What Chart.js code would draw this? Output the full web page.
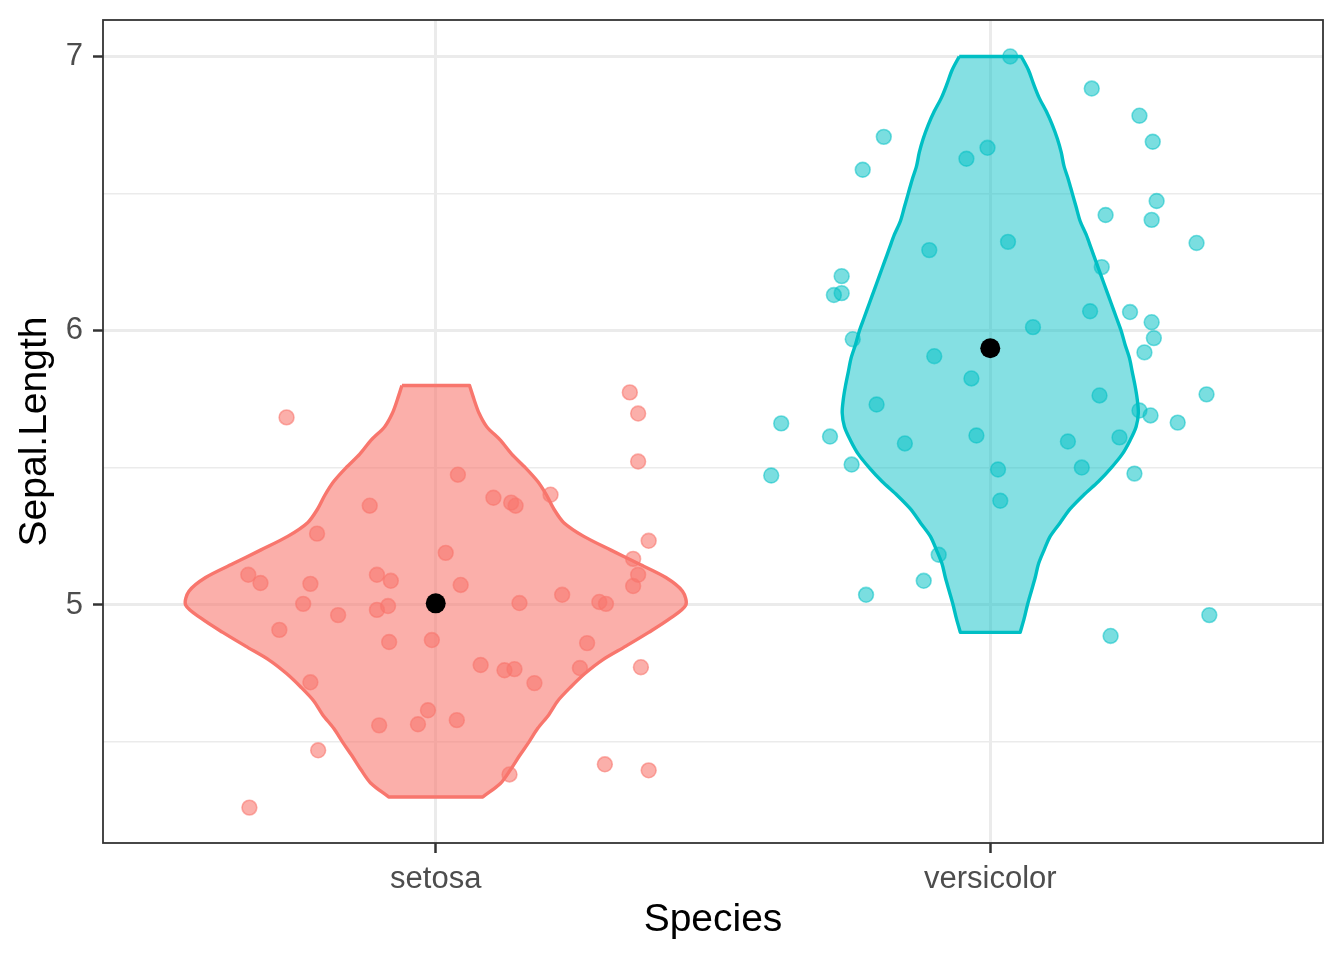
<!DOCTYPE html>
<html>
<head>
<meta charset="utf-8">
<script src="https://cdn.jsdelivr.net/npm/chart.js@4.4.1/dist/chart.umd.min.js"></script>
<style>
  html, body { margin: 0; padding: 0; background: #fff; }
  #wrap { width: 1344px; height: 960px; }
</style>
</head>
<body>
<div id="wrap"><canvas id="violinChart"></canvas></div>
<script>
// ── Data ──
const species = ['setosa', 'versicolor'];
const speciesFill = ['rgba(248,118,109,0.58)', 'rgba(0,191,196,0.48)'];
const speciesLine = ['#F8766D', '#00BFC4'];
const speciesDot = ['rgba(248,118,109,0.58)', 'rgba(0,191,196,0.52)'];
const yTicks = [4.5, 5, 5.5, 6, 6.5, 7];
const meanLength = [5.006, 5.936];

// violin outline: y levels and half widths (in x units)
const setosaLevels = [5.8, 5.75, 5.7, 5.65, 5.6, 5.55, 5.5, 5.45, 5.4, 5.35, 5.3, 5.25, 5.2, 5.15, 5.1, 5.05,
    5.0, 4.95, 4.9, 4.85, 4.8, 4.75, 4.7, 4.65, 4.6, 4.55, 4.5, 4.45, 4.4, 4.35, 4.3];
const setosaHalfWidth = [0.061, 0.069, 0.078, 0.092, 0.117, 0.137, 0.162, 0.184, 0.200, 0.213, 0.231, 0.267,
    0.316, 0.366, 0.415, 0.445, 0.451, 0.422, 0.384, 0.343, 0.301, 0.269, 0.243, 0.220, 0.204, 0.184,
    0.168, 0.151, 0.135, 0.117, 0.085];

const versicolorLevels = [7.0, 6.95, 6.9, 6.85, 6.8, 6.75, 6.7, 6.65, 6.6, 6.55, 6.5, 6.45, 6.4, 6.35, 6.3,
    6.25, 6.2, 6.15, 6.1, 6.05, 6.0, 5.95, 5.9, 5.85, 5.8, 5.75, 5.7, 5.65, 5.6, 5.55, 5.5, 5.45, 5.4,
    5.35, 5.3, 5.25, 5.2, 5.15, 5.1, 5.05, 5.0, 4.95, 4.9];
const versicolorHalfWidth = [0.056, 0.069, 0.078, 0.088, 0.101, 0.112, 0.121, 0.128, 0.133, 0.141, 0.148,
    0.155, 0.162, 0.173, 0.182, 0.191, 0.200, 0.209, 0.218, 0.227, 0.236, 0.243, 0.251, 0.256, 0.261,
    0.265, 0.267, 0.263, 0.252, 0.238, 0.218, 0.195, 0.168, 0.144, 0.126, 0.108, 0.097, 0.087, 0.081,
    0.074, 0.067, 0.061, 0.054];

// jittered points (x offset from category, sepal length)
const setosaJitter = [-0.269, -0.336, -0.212, -0.338, -0.316, -0.214, -0.119, -0.239, -0.226, -0.282,
    -0.176, -0.226, -0.106, -0.081, -0.106, -0.086, -0.084, -0.102, -0.032, -0.014,
    0.038, -0.007, 0.018, 0.040, 0.045, 0.081, 0.104, 0.136, 0.144, 0.151,
    0.124, 0.142, 0.178, 0.207, 0.228, 0.133, 0.260, 0.273, 0.295, 0.307,
    0.305, 0.384, 0.370, 0.350, 0.365, 0.365, 0.384, 0.356, 0.365, 0.356];
const setosaLength = [5.684, 4.261, 4.470, 5.110, 5.080, 5.260, 5.362, 5.004, 5.077, 4.909,
    4.963, 4.718, 5.110, 5.088, 4.982, 4.996, 4.865, 4.561, 4.565, 4.616,
    4.580, 4.872, 5.190, 5.475, 5.073, 4.781, 5.391, 5.373, 5.362, 5.007,
    4.762, 4.766, 4.715, 5.402, 5.037, 4.382, 4.770, 4.861, 5.011, 5.004,
    4.419, 4.397, 4.773, 5.775, 5.698, 5.523, 5.234, 5.168, 5.110, 5.069];

const versicolorJitter = [0.036, 0.183, 0.269, 0.293, -0.192, -0.230, -0.043, -0.005, 0.300, 0.208,
    0.291, -0.110, 0.032, 0.372, -0.268, -0.282, -0.268, 0.201, -0.248, 0.180,
    0.252, 0.291, 0.295, 0.278, 0.077, -0.101, -0.034, -0.205, -0.154, 0.197,
    0.390, 0.269, 0.289, -0.377, -0.289, -0.025, 0.140, 0.233, 0.338, -0.250,
    -0.395, 0.014, 0.165, 0.260, 0.018, -0.093, -0.120, -0.224, 0.217, 0.395];
const versicolorLength = [7.000, 6.883, 6.784, 6.689, 6.707, 6.587, 6.627, 6.667, 6.473, 6.422,
    6.404, 6.294, 6.324, 6.320, 6.199, 6.130, 6.137, 6.232, 5.969, 6.071,
    6.068, 6.031, 5.973, 5.921, 6.013, 5.907, 5.826, 5.731, 5.589, 5.764,
    5.768, 5.709, 5.691, 5.662, 5.614, 5.618, 5.596, 5.611, 5.665, 5.512,
    5.472, 5.494, 5.501, 5.479, 5.380, 5.183, 5.088, 5.037, 4.887, 4.963];

// ── Helpers ──
// outline goes down the left side, across the bottom, up the right side and
// back across the top; end points are doubled so the flat ends stay straight
function violinOutline(center, levels, half) {
    const left = levels.map((y, i) => ({ x: center - half[i], y }));
    const right = levels.map((y, i) => ({ x: center + half[i], y })).reverse();
    const n = left.length;
    return [left[0], ...left, left[n - 1], right[0], ...right, right[n - 1], left[0]];
}
function jitterPoints(center, jitter, values) {
    return values.map((y, i) => ({ x: center + jitter[i], y }));
}

const FONT = '"Liberation Sans", Arial, Helvetica, sans-serif';

const violins = [
    violinOutline(1, setosaLevels, setosaHalfWidth),
    violinOutline(2, versicolorLevels, versicolorHalfWidth)
];
const points = [
    jitterPoints(1, setosaJitter, setosaLength),
    jitterPoints(2, versicolorJitter, versicolorLength)
];

const datasets = [];
species.forEach((name, i) => {
    datasets.push({
        label: name + ' violin',
        data: violins[i],
        showLine: true,
        fill: 'shape',
        backgroundColor: speciesFill[i],
        borderColor: speciesLine[i],
        borderWidth: 3.4,
        borderJoinStyle: 'round',
        tension: 0.3,
        pointRadius: 0,
        order: 3
    });
    datasets.push({
        label: name,
        data: points[i],
        backgroundColor: speciesDot[i],
        borderColor: speciesDot[i],
        borderWidth: 1.6,
        pointRadius: 7.4,
        order: 2
    });
});
datasets.push({
    label: 'mean',
    data: meanLength.map((y, i) => ({ x: i + 1, y })),
    backgroundColor: '#000',
    borderColor: '#000',
    borderWidth: 0,
    pointRadius: 10,
    order: 1
});

// ── Panel border ──
const panelBorder = {
    id: 'panelBorder',
    afterDatasetsDraw(chart) {
        const { ctx, chartArea: a } = chart;
        ctx.save();
        ctx.strokeStyle = '#333333';
        ctx.lineWidth = 1.8;
        ctx.strokeRect(a.left, a.top, a.right - a.left, a.bottom - a.top);
        ctx.restore();
    }
};

const isMajor = v => Math.abs(v - Math.round(v)) < 1e-6;

// ── Build Chart ──
new Chart(document.getElementById('violinChart'), {
    type: 'scatter',
    data: { datasets },
    options: {
        responsive: true,
        maintainAspectRatio: false,
        devicePixelRatio: 1,
        animation: false,
        events: [],
        layout: { padding: { left: 0, right: 21, top: 20, bottom: 0 } },
        plugins: {
            legend: { display: false },
            tooltip: { enabled: false }
        },
        scales: {
            x: {
                type: 'linear',
                min: 0.4,
                max: 2.6,
                afterBuildTicks: s => { s.ticks = species.map((_, i) => ({ value: i + 1 })); },
                afterFit: s => { s.height = 117; s.paddingLeft = 0; s.paddingRight = 0; },
                ticks: {
                    callback: (v, i) => species[i],
                    font: { family: FONT, size: 31 },
                    color: '#4D4D4D',
                    padding: 8,
                    maxRotation: 0,
                    autoSkip: false
                },
                grid: {
                    color: '#EBEBEB',
                    lineWidth: 3,
                    tickLength: 10,
                    tickColor: '#333333',
                    tickWidth: 2.5
                },
                border: { display: false },
                title: {
                    display: true,
                    text: 'Species',
                    font: { family: FONT, size: 39 },
                    color: '#000',
                    padding: { top: 0, bottom: 16 }
                }
            },
            y: {
                type: 'linear',
                min: 4.132,
                max: 7.133,
                afterBuildTicks: s => { s.ticks = yTicks.map(v => ({ value: v })); },
                afterFit: s => { s.width = 103; s.paddingTop = 0; s.paddingBottom = 0; },
                ticks: {
                    callback: v => isMajor(v) ? String(v) : '',
                    font: { family: FONT, size: 31 },
                    color: '#4D4D4D',
                    padding: 10,
                    autoSkip: false
                },
                grid: {
                    color: '#EBEBEB',
                    lineWidth: c => isMajor(c.tick.value) ? 3 : 1.6,
                    tickLength: 10,
                    tickColor: c => isMajor(c.tick.value) ? '#333333' : 'rgba(0,0,0,0)',
                    tickWidth: c => isMajor(c.tick.value) ? 2.5 : 0
                },
                border: { display: false },
                title: {
                    display: true,
                    text: 'Sepal.Length',
                    font: { family: FONT, size: 39 },
                    color: '#000',
                    padding: { top: 12, bottom: 0 }
                }
            }
        }
    },
    plugins: [panelBorder]
});
</script>
</body>
</html>
